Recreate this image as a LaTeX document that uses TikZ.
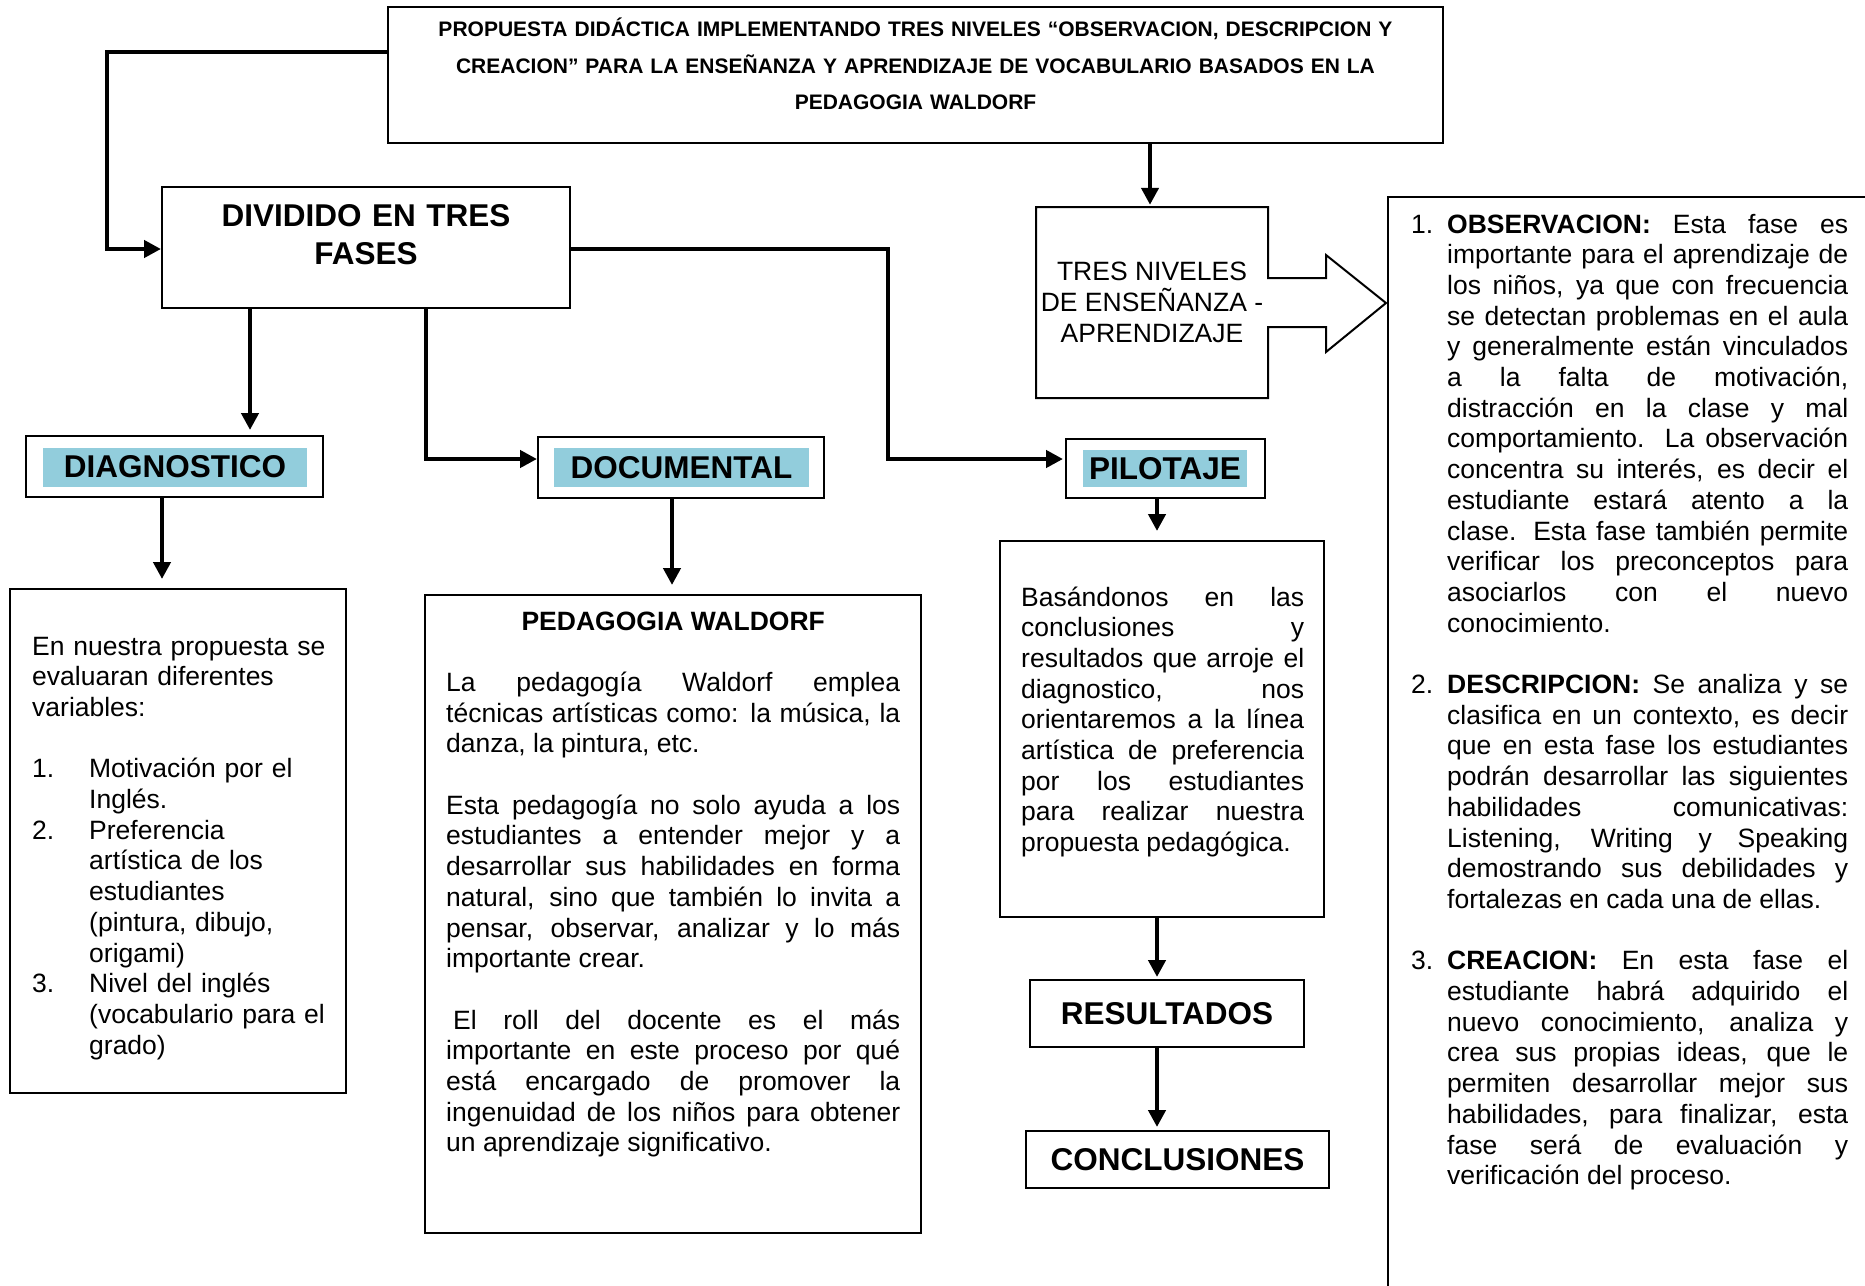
\documentclass[tikz,border=0pt]{standalone}
\usepackage{fontspec}
\setmainfont{Liberation Sans}
\usetikzlibrary{arrows.meta}
\definecolor{hlblue}{RGB}{146,205,220}
\newcommand\fbody{\fontsize{26.5pt}{30.7pt}\selectfont}
\newcommand\fbig{\fontsize{31.5pt}{38pt}\selectfont\bfseries}
\newcommand\ftitle{\fontsize{21pt}{36.7pt}\selectfont\bfseries}
\hyphenpenalty=10000
\exhyphenpenalty=10000
\tolerance=10000
\hbadness=10000
\begin{document}
\begin{tikzpicture}[x=1pt,y=-1pt,
  box/.style={draw=black, line width=2pt, inner sep=0pt},
  hl/.style={fill=hlblue, inner sep=0pt, font=\fbig},
  txt/.style={inner sep=0pt, font=\fbody},
  conn/.style={line width=4.5pt, -{Triangle[length=17pt,width=17pt]}},
]
\useasboundingbox (0,0) rectangle (1865,1285);

% top box
\node[box, minimum width=1055pt, minimum height=136pt] (top) at (915.5,75) {};
\node[txt, font=\ftitle, text width=1040pt, align=center, anchor=base] (toptext) at (915.5,36.5)
 {PROPUESTA DIDÁCTICA IMPLEMENTANDO TRES NIVELES “OBSERVACION, DESCRIPCION Y\\CREACION” PARA LA ENSEÑANZA Y APRENDIZAJE DE VOCABULARIO BASADOS EN LA\\PEDAGOGIA WALDORF};

% dividido
\node[box, minimum width=408pt, minimum height=121pt] (div) at (366,247.5) {};
\node[txt, font=\fbig, text width=400pt, align=center, anchor=base] (divtext) at (366,226) {DIVIDIDO EN TRES\\FASES};

% phase labels
\node[box, minimum width=297pt, minimum height=61pt] (diag) at (174.5,466.5) {};
\node[hl, minimum width=264pt, minimum height=39pt] (diaglab) at (175,467) {DIAGNOSTICO};
\node[box, minimum width=286pt, minimum height=61pt] (doc) at (681,467) {};
\node[hl, minimum width=255pt, minimum height=39pt] (doclab) at (681.5,467.5) {DOCUMENTAL};
\node[box, minimum width=199pt, minimum height=59pt] (pil) at (1165.5,468.5) {};
\node[hl, minimum width=164pt, minimum height=37pt] (pillab) at (1165,468.5) {PILOTAJE};

% content boxes
\node[box, minimum width=336pt, minimum height=504pt] (diagbox) at (178,841) {};
\node[txt, text width=310pt, align=left, anchor=base west] (diagtext) at (32,655)
 {En nuestra propuesta se\\evaluaran diferentes\\variables:\\[30.7pt]%
 \makebox[57pt][l]{1.}Motivación por el\\\hspace*{57pt}Inglés.\\%
 \makebox[57pt][l]{2.}Preferencia\\\hspace*{57pt}artística de los\\\hspace*{57pt}estudiantes\\\hspace*{57pt}(pintura, dibujo,\\\hspace*{57pt}origami)\\%
 \makebox[57pt][l]{3.}Nivel del inglés\\\hspace*{57pt}(vocabulario para el\\\hspace*{57pt}grado)};

\node[box, minimum width=496pt, minimum height=638pt] (pedbox) at (673,914) {};
\node[txt, text width=454pt, align=justify, anchor=base west] (pedtext) at (446,630)
 {\makebox[454pt]{\textbf{PEDAGOGIA WALDORF}}\par\vspace{30.7pt}%
 La pedagogía Waldorf emplea\linebreak técnicas artísticas como: la música, la\linebreak danza, la pintura, etc.\par\vspace{30.7pt}%
 Esta pedagogía no solo ayuda a los\linebreak estudiantes a entender mejor y a\linebreak desarrollar sus habilidades en forma\linebreak natural, sino que también lo invita a\linebreak pensar, observar, analizar y lo más\linebreak importante crear.\par\vspace{30.7pt}%
 \hspace*{7pt}El roll del docente es el más\linebreak importante en este proceso por qué\linebreak está encargado de promover la\linebreak ingenuidad de los niños para obtener\linebreak un aprendizaje significativo.\par};

\node[box, minimum width=324pt, minimum height=376pt] (pilbox) at (1162,729) {};
\node[txt, text width=283pt, align=justify, anchor=base west] (piltext) at (1021,606)
 {Basándonos en las\linebreak conclusiones y\linebreak resultados que arroje el\linebreak diagnostico, nos\linebreak orientaremos a la línea\linebreak artística de preferencia\linebreak por los estudiantes\linebreak para realizar nuestra\linebreak propuesta pedagógica.\par};

\node[box, minimum width=274pt, minimum height=67pt, font=\fbig] (res) at (1167,1013.5) {RESULTADOS};
\node[box, minimum width=303pt, minimum height=57pt, font=\fbig] (conc) at (1177.5,1159.5) {CONCLUSIONES};

% tres niveles callout
\draw[line width=2pt, line join=miter] (1036,207) -- (1268,207) -- (1268,278) -- (1326,278) -- (1326,255) -- (1386,303) -- (1326,352) -- (1326,327) -- (1268,327) -- (1268,398) -- (1036,398) -- cycle;
\node[txt, minimum width=232pt, minimum height=191pt, align=center] (niv) at (1152,302.5) {TRES NIVELES\\DE ENSEÑANZA -\\APRENDIZAJE};

% right box
\begin{scope}
\clip (0,0) rectangle (1865,1285);
\draw[line width=2pt] (1388,197) rectangle (1920,1340);
\end{scope}
\node[txt, text width=437pt, align=justify, anchor=base west] (fases) at (1411,233)
 {\hangindent=36pt\hangafter=1 \makebox[36pt][l]{1.}\textbf{OBSERVACION:} Esta fase es\linebreak importante para el aprendizaje de\linebreak los niños, ya que con frecuencia\linebreak se detectan problemas en el aula\linebreak y generalmente están vinculados\linebreak a la falta de motivación,\linebreak distracción en la clase y mal\linebreak comportamiento. La observación\linebreak concentra su interés, es decir el\linebreak estudiante estará atento a la\linebreak clase. Esta fase también permite\linebreak verificar los preconceptos para\linebreak asociarlos con el nuevo\linebreak conocimiento.\par\vspace{30.7pt}%
 \hangindent=36pt\hangafter=1 \makebox[36pt][l]{2.}\textbf{DESCRIPCION:} Se analiza y se\linebreak clasifica en un contexto, es decir\linebreak que en esta fase los estudiantes\linebreak podrán desarrollar las siguientes\linebreak habilidades comunicativas:\linebreak Listening, Writing y Speaking\linebreak demostrando sus debilidades y\linebreak fortalezas en cada una de ellas.\par\vspace{30.7pt}%
 \hangindent=36pt\hangafter=1 \makebox[36pt][l]{3.}\textbf{CREACION:} En esta fase el\linebreak estudiante habrá adquirido el\linebreak nuevo conocimiento, analiza y\linebreak crea sus propias ideas, que le\linebreak permiten desarrollar mejor sus\linebreak habilidades, para finalizar, esta\linebreak fase será de evaluación y\linebreak verificación del proceso.\par};

% connectors
\coordinate (k1) at (107,52);
\coordinate (k2) at (107,249);
\coordinate (k3) at (250,0);
\coordinate (k4) at (426,459);
\coordinate (k5) at (888,249);
\coordinate (k6) at (888,459);
\coordinate (k7) at (162,0);
\coordinate (k8) at (672,0);
\coordinate (k9) at (1157,0);
\coordinate (k10) at (1150,0);
\draw[conn] (top.west |- k1) -- (k1) -- (k2) -- (div.west |- k2);
\draw[conn, shorten >=5pt] (div.south -| k3) -- (diag.north -| k3);
\draw[conn] (div.south -| k4) -- (k4) -- (doc.west |- k4);
\draw[conn, shorten >=2pt] (div.east |- k5) -- (k5) -- (k6) -- (pil.west |- k6);
\draw[conn, shorten >=9pt] (diag.south -| k7) -- (diagbox.north -| k7);
\draw[conn, shorten >=9pt] (doc.south -| k8) -- (pedbox.north -| k8);
\draw[conn, shorten >=9pt] (pil.south -| k9) -- (pilbox.north -| k9);
\draw[conn, shorten >=2pt] (top.south -| k10) -- (niv.north -| k10);
\draw[conn, shorten >=2pt] (pilbox.south -| k9) -- (res.north -| k9);
\draw[conn, shorten >=3pt] (res.south -| k9) -- (conc.north -| k9);
\end{tikzpicture}
\end{document}
